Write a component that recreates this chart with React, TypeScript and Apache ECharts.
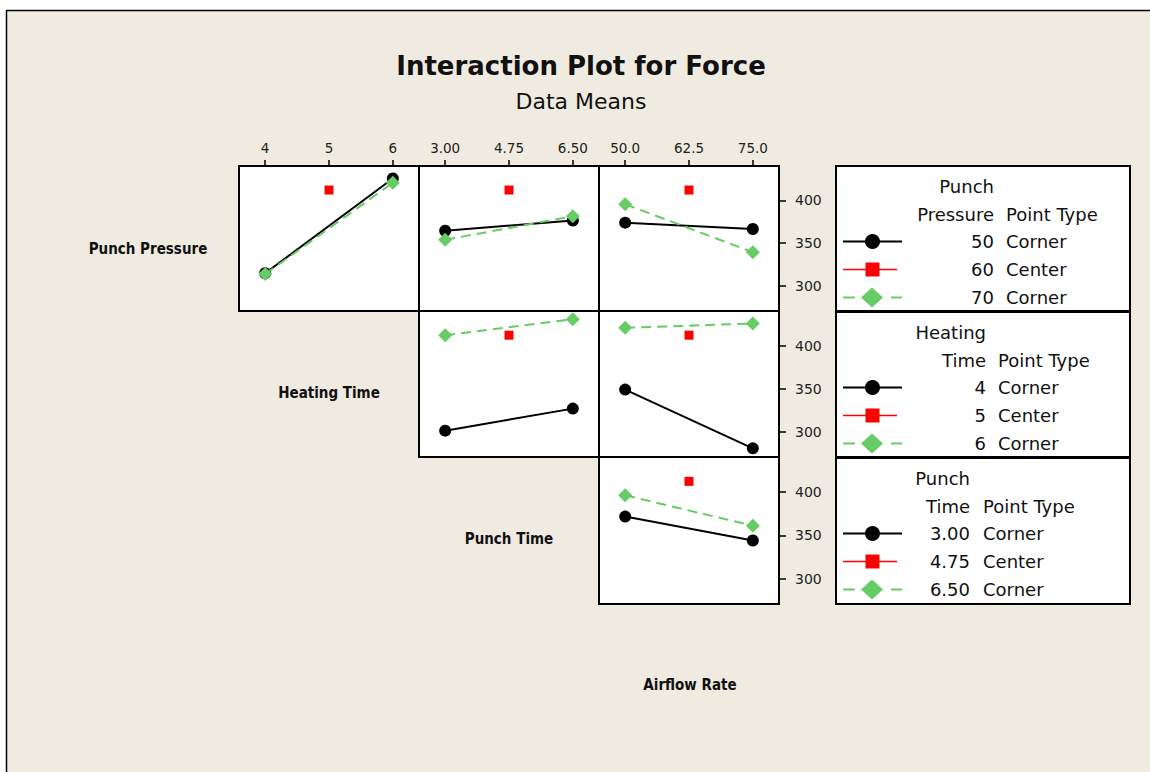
import React, { useEffect, useRef } from "react";
import * as echarts from "echarts";

// Factor levels (x positions) and their printed tick labels
const heatingLevels = [4, 5, 6];
const heatingTickLabels = ["4", "5", "6"];
const punchTimeLevels = [3.0, 4.75, 6.5];
const punchTimeTickLabels = ["3.00", "4.75", "6.50"];
const airflowLevels = [50, 62.5, 75];
const airflowTickLabels = ["50.0", "62.5", "75.0"];
const forceTicks = [300, 350, 400];

// Mean Force at the low / high level of the x factor, one array per trace
const pressure50ByHeating = [315, 425.5];
const pressure70ByHeating = [314, 420.5];
const pressure50ByPunchTime = [364.5, 376.5];
const pressure70ByPunchTime = [354, 381.5];
const pressure50ByAirflow = [374, 366.5];
const pressure70ByAirflow = [395.5, 339.5];
const heating4ByPunchTime = [301.5, 327];
const heating6ByPunchTime = [412, 430.5];
const heating4ByAirflow = [349, 281];
const heating6ByAirflow = [420.5, 425.5];
const punch300ByAirflow = [371.5, 344];
const punch650ByAirflow = [396, 361];
// Center point mean
const centerPointMean = [412];

// Legend content
const legendTitles = [
  ["Punch", "Pressure"],
  ["Heating", "Time"],
  ["Punch", "Time"],
];
const legendLevelLabels = [
  ["50", "60", "70"],
  ["4", "5", "6"],
  ["3.00", "4.75", "6.50"],
];
const pointTypes = ["Corner", "Center", "Corner"];
const rowFactorNames = ["Punch Pressure", "Heating Time", "Punch Time", "Airflow Rate"];

const BLACK = "#000000";
const RED = "#ff0000";
const GREEN = "#66cc66";
const BEIGE = "#efebe1";
const FONT = '"DejaVu Sans", "Noto Sans", sans-serif';
const LABEL_FONT = '"DejaVu Sans Condensed", "Liberation Sans Narrow", "DejaVu Sans", sans-serif';

const xFactors = [
  { levels: heatingLevels, labels: heatingTickLabels },
  { levels: punchTimeLevels, labels: punchTimeTickLabels },
  { levels: airflowLevels, labels: airflowTickLabels },
];

// Panel matrix: row = trace factor, col = x factor
const panels = [
  { row: 0, col: 0, low: pressure50ByHeating, high: pressure70ByHeating },
  { row: 0, col: 1, low: pressure50ByPunchTime, high: pressure70ByPunchTime },
  { row: 0, col: 2, low: pressure50ByAirflow, high: pressure70ByAirflow },
  { row: 1, col: 1, low: heating4ByPunchTime, high: heating6ByPunchTime },
  { row: 1, col: 2, low: heating4ByAirflow, high: heating6ByAirflow },
  { row: 2, col: 2, low: punch300ByAirflow, high: punch650ByAirflow },
];

const colLefts = [239, 419, 599];
const cellWidth = 180;
const rowTops = [166, 311, 457];
const rowHeights = [145, 146, 147];
const Y_MIN = 271;
const Y_MAX = 440;
const X_PAD = 0.205;

function buildOption() {
  const grid: any[] = [];
  const xAxis: any[] = [];
  const yAxis: any[] = [];
  const series: any[] = [];

  panels.forEach((p, i) => {
    const f = xFactors[p.col];
    const lo = f.levels[0];
    const hi = f.levels[2];
    const pad = (hi - lo) * X_PAD;
    grid.push({
      left: colLefts[p.col],
      top: rowTops[p.row],
      width: cellWidth,
      height: rowHeights[p.row],
      show: true,
      backgroundColor: "#ffffff",
      borderColor: BLACK,
      borderWidth: 2,
    });
    const topRow = p.row === 0;
    xAxis.push({
      type: "value",
      gridIndex: i,
      position: "top",
      min: lo - pad,
      max: hi + pad,
      axisLine: { show: false },
      splitLine: { show: false },
      axisTick: {
        show: topRow,
        length: 6,
        customValues: f.levels,
        lineStyle: { color: BLACK, width: 1.5 },
      },
      axisLabel: {
        show: topRow,
        customValues: f.levels,
        margin: 11,
        color: "#222",
        fontFamily: FONT,
        fontSize: 13.5,
        formatter: (v: number) => {
          const k = f.levels.findIndex((l) => Math.abs(l - v) < 1e-6);
          return k >= 0 ? f.labels[k] : "";
        },
      },
    });
    const rightCol = p.col === 2;
    yAxis.push({
      type: "value",
      gridIndex: i,
      position: "right",
      min: Y_MIN,
      max: Y_MAX,
      axisLine: { show: false },
      splitLine: { show: false },
      axisTick: {
        show: rightCol,
        length: 7,
        customValues: forceTicks,
        lineStyle: { color: BLACK, width: 1.5 },
      },
      axisLabel: {
        show: rightCol,
        customValues: forceTicks,
        margin: 16,
        color: "#222",
        fontFamily: FONT,
        fontSize: 14,
      },
    });
    series.push({
      type: "line",
      xAxisIndex: i,
      yAxisIndex: i,
      data: [
        [lo, p.low[0]],
        [hi, p.low[1]],
      ],
      symbol: "circle",
      symbolSize: 12,
      itemStyle: { color: BLACK, opacity: 1 },
      lineStyle: { color: BLACK, width: 2 },
      z: 3,
    });
    series.push({
      type: "scatter",
      xAxisIndex: i,
      yAxisIndex: i,
      data: [[f.levels[1], centerPointMean[0]]],
      symbol: "rect",
      symbolSize: 9,
      itemStyle: { color: RED, opacity: 1 },
      z: 3,
    });
    series.push({
      type: "line",
      xAxisIndex: i,
      yAxisIndex: i,
      data: [
        [lo, p.high[0]],
        [hi, p.high[1]],
      ],
      symbol: "diamond",
      symbolSize: 14,
      itemStyle: { color: GREEN, opacity: 1 },
      lineStyle: { color: GREEN, width: 2, type: [10, 6] },
      z: 4,
    });
  });

  const graphic: any[] = [];
  // frame around the plotting page
  graphic.push(
    { type: "rect", silent: true, shape: { x: 0, y: 0, width: 1150, height: 10 }, style: { fill: "#ffffff" } },
    { type: "rect", silent: true, shape: { x: 0, y: 0, width: 6, height: 772 }, style: { fill: "#ffffff" } },
    { type: "line", silent: true, shape: { x1: 6, y1: 10.5, x2: 1150, y2: 10.5 }, style: { stroke: BLACK, lineWidth: 1.5 } },
    { type: "line", silent: true, shape: { x1: 6.5, y1: 10, x2: 6.5, y2: 772 }, style: { stroke: BLACK, lineWidth: 1.5 } }
  );
  // titles
  graphic.push(
    {
      type: "text",
      x: 581,
      y: 66,
      style: {
        text: "Interaction Plot for Force",
        fill: "#111",
        fontFamily: FONT,
        fontWeight: "bold",
        fontSize: 26,
        textAlign: "center",
        textVerticalAlign: "middle",
      },
    },
    {
      type: "text",
      x: 581,
      y: 101,
      style: {
        text: "Data Means",
        fill: "#111",
        fontFamily: FONT,
        fontSize: 22,
        textAlign: "center",
        textVerticalAlign: "middle",
      },
    }
  );
  // factor names on the diagonal
  const diagX = [148, 329, 509, 690];
  const diagY = [249, 393, 539, 685];
  rowFactorNames.forEach((name, k) => {
    graphic.push({
      type: "text",
      x: diagX[k],
      y: diagY[k],
      style: {
        text: name,
        fill: "#111",
        fontFamily: LABEL_FONT,
        fontWeight: "bold",
        fontSize: 15,
        textAlign: "center",
        textVerticalAlign: "middle",
      },
    });
  });

  // legends, one per trace factor
  const boxTops = [166, 312, 458];
  const boxHeights = [145, 145, 146];
  const col1Right = [994, 986, 970];
  const col2Left = [1006, 998, 983];
  boxTops.forEach((top, k) => {
    graphic.push({
      type: "rect",
      silent: true,
      shape: { x: 836, y: top, width: 294, height: boxHeights[k] },
      style: { fill: "#ffffff", stroke: BLACK, lineWidth: 2 },
    });
    const textStyle = (text: string, align: string) => ({
      text,
      fill: "#111",
      fontFamily: FONT,
      fontSize: 18,
      textAlign: align,
      textVerticalAlign: "middle",
    });
    graphic.push({ type: "text", x: col1Right[k], y: top + 20, style: textStyle(legendTitles[k][0], "right") });
    graphic.push({ type: "text", x: col1Right[k], y: top + 48, style: textStyle(legendTitles[k][1], "right") });
    graphic.push({ type: "text", x: col2Left[k], y: top + 48, style: textStyle("Point Type", "left") });
    for (let j = 0; j < 3; j++) {
      const cy = top + 75.5 + j * 28;
      graphic.push({ type: "text", x: col1Right[k], y: cy, style: textStyle(legendLevelLabels[k][j], "right") });
      graphic.push({ type: "text", x: col2Left[k], y: cy, style: textStyle(pointTypes[j], "left") });
      if (j === 0) {
        graphic.push({ type: "line", shape: { x1: 843, y1: cy, x2: 902, y2: cy }, style: { stroke: BLACK, lineWidth: 2 } });
        graphic.push({ type: "circle", shape: { cx: 872.5, cy, r: 7.5 }, style: { fill: BLACK } });
      } else if (j === 1) {
        graphic.push({ type: "line", shape: { x1: 843, y1: cy, x2: 897, y2: cy }, style: { stroke: RED, lineWidth: 1.5 } });
        graphic.push({ type: "rect", shape: { x: 865.5, y: cy - 7, width: 14, height: 14 }, style: { fill: RED } });
      } else {
        graphic.push({ type: "line", shape: { x1: 843, y1: cy, x2: 855, y2: cy }, style: { stroke: GREEN, lineWidth: 2 } });
        graphic.push({ type: "line", shape: { x1: 891, y1: cy, x2: 902, y2: cy }, style: { stroke: GREEN, lineWidth: 2 } });
        graphic.push({
          type: "polygon",
          shape: {
            points: [
              [872, cy - 10],
              [883, cy],
              [872, cy + 10],
              [861, cy],
            ],
          },
          style: { fill: GREEN },
        });
      }
    }
  });

  return {
    animation: false,
    backgroundColor: BEIGE,
    grid,
    xAxis,
    yAxis,
    series,
    graphic,
  };
}

export default function App() {
  const ref = useRef<HTMLDivElement>(null);
  useEffect(() => {
    if (!ref.current) return;
    const chart = echarts.init(ref.current, undefined, { renderer: "svg" });
    chart.setOption(buildOption() as any);
    return () => chart.dispose();
  }, []);
  return (
    <div
      ref={ref}
      style={{ position: "absolute", left: 0, top: 0, width: 1150, height: 772 }}
    />
  );
}
